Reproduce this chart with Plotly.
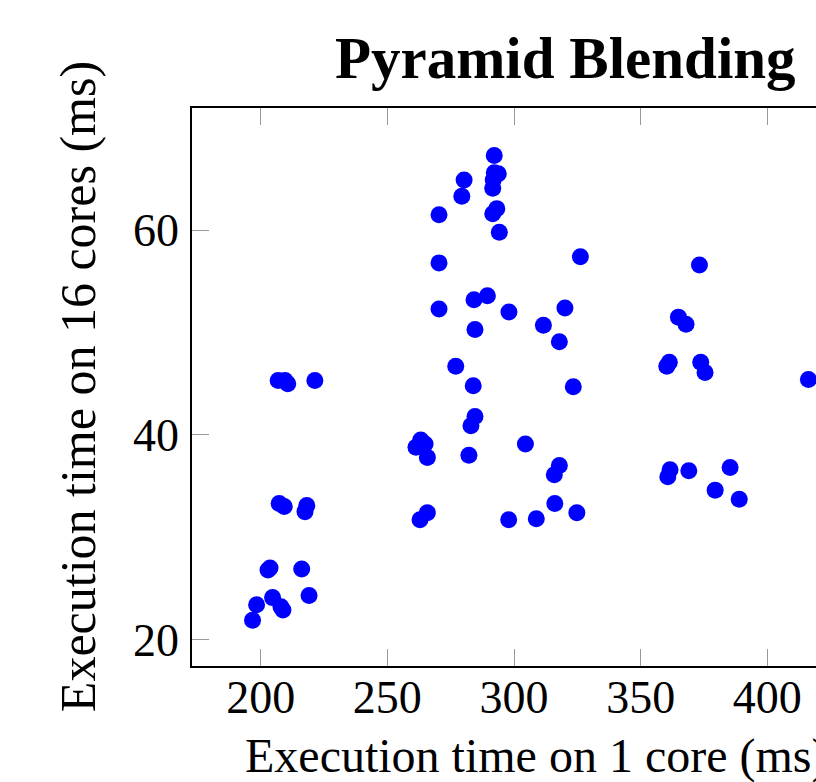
import plotly.graph_objects as go

# Execution time on 1 core (ms)
x_1core = [
    196.8, 198.4, 204.7, 208.0, 208.8, 202.9, 203.7, 216.2, 219.1,
    207.3, 209.3, 218.2, 217.5, 206.9, 209.6, 210.7, 221.4,
    261.3, 263.2, 264.9, 265.8, 262.9, 265.8, 282.2, 277.0, 283.9, 284.6, 283.0,
    304.5, 317.9, 315.9, 316.1, 324.8, 297.9, 308.8, 317.9, 311.6, 284.6,
    292.2, 280.3, 279.4, 292.2, 293.8, 291.8, 291.6, 270.4, 293.2, 291.6, 294.2,
    270.4, 326.2, 270.4, 284.2, 289.5, 298.0, 320.1, 323.4,
    361.3, 360.3, 364.9, 367.9, 373.2, 373.7, 375.4, 416.2,
    361.6, 360.7, 369.0, 385.3, 379.4, 388.9,
]
# Execution time on 16 cores (ms)
y_16cores = [
    21.9, 23.4, 24.1, 23.2, 22.9, 26.8, 27.0, 26.9, 24.3,
    33.3, 33.0, 33.1, 32.5, 45.3, 45.3, 45.0, 45.3,
    38.8, 39.5, 39.1, 37.8, 31.7, 32.4, 38.0, 46.7, 44.8, 41.8, 40.9,
    39.1, 37.0, 36.1, 33.3, 32.4, 31.7, 31.8, 49.1, 50.7, 50.3,
    67.3, 64.9, 63.3, 65.6, 65.5, 64.9, 64.1, 61.5, 62.1, 61.6, 59.8,
    56.8, 57.4, 52.3, 53.2, 53.6, 52.0, 52.4, 44.7,
    47.1, 46.7, 51.5, 50.8, 56.6, 47.1, 46.1, 45.4,
    36.6, 35.9, 36.5, 36.8, 34.6, 33.7,
]

x_ticks = [200, 250, 300, 350, 400]
y_ticks = [20, 40, 60]

title_text = "Pyramid Blending"
x_title = "Execution time on 1 core (ms)"
y_title = "Execution time on 16 cores (ms)"

FONT = "Liberation Serif"

fig = go.Figure()
fig.add_trace(go.Scatter(
    x=x_1core, y=y_16cores, mode="markers",
    marker=dict(color="#0000ff", size=17, line=dict(width=0)),
    showlegend=False,
))

fig.update_layout(
    width=816, height=782,
    margin=dict(l=192, r=0, t=108, b=116, pad=0),
    paper_bgcolor="white", plot_bgcolor="white",
    font=dict(family=FONT, size=46, color="black"),
    xaxis=dict(
        range=[172.9, 419.2], tickvals=x_ticks, ticks="inside", ticklen=17,
        tickcolor="#999999", tickwidth=1, showline=True, linecolor="black",
        linewidth=1.5, mirror="ticks", showgrid=False, zeroline=False,
        tickfont=dict(family=FONT, size=46), ticklabelstandoff=-10,
        automargin=False,
    ),
    yaxis=dict(
        range=[17.42, 71.93], tickvals=y_ticks, ticks="inside", ticklen=17,
        tickcolor="#999999", tickwidth=1, showline=True, linecolor="black",
        linewidth=1.5, mirror=False, showgrid=False, zeroline=False,
        tickfont=dict(family=FONT, size=46), ticklabelstandoff=2,
        automargin=False,
    ),
    annotations=[
        dict(text="<b>" + title_text + "</b>", xref="paper", yref="paper",
             x=0.599, y=1.0897, xanchor="center", yanchor="middle",
             showarrow=False, font=dict(family=FONT, size=59, color="black")),
        dict(text=x_title, xref="paper", yref="paper",
             x=(243 - 192) / 624, y=-0.162, xanchor="left", yanchor="middle",
             showarrow=False, font=dict(family=FONT, size=48, color="black")),
        dict(text=y_title, xref="paper", yref="paper", textangle=-90,
             x=-0.1827, y=0.5015, xanchor="center", yanchor="middle",
             showarrow=False, font=dict(family=FONT, size=50, color="black")),
    ],
)

fig.write_html(
    "out.html",
    config={"displayModeBar": False},
    post_script="document.body.style.margin='0';document.body.style.overflow='hidden';",
)
